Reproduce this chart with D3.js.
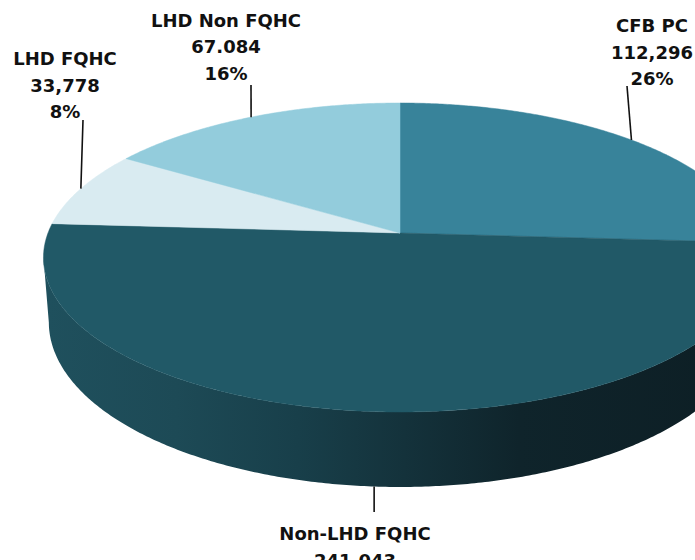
<!DOCTYPE html>
<html>
<head>
<meta charset="utf-8">
<script src="https://cdn.jsdelivr.net/npm/d3@7"></script>
<style>
  html, body { margin: 0; padding: 0; background: #fff; }
  svg { display: block; }
  text { font-family: "DejaVu Sans", sans-serif; font-weight: bold; font-size: 18px; fill: #111; }
</style>
</head>
<body>
<svg id="chart" width="695" height="560"></svg>
<script>
// Slice data, in drawing order (clockwise from 12 o'clock)
const categories  = ["CFB PC", "Non-LHD FQHC", "LHD FQHC", "LHD Non FQHC"];
const counts      = [112296, 241043, 33778, 67084];
const countLabels = ["112,296", "241,043", "33,778", "67.084"];
const shares      = [26, 50, 8, 16];
const shareLabels = ["26%", "50%", "8%", "16%"];
const topColors   = ["#38839a", "#215967", "#d9ebf1", "#93ccdc"];

// Geometry of the tilted disc
const CX = 400, CY = 233;      // projected centre of the top face
const RX = 352, RY = 150.6;    // radii before perspective
const K = 0.1586;              // perspective strength (near edge looks larger)
const DEPTH = 63.1;            // thickness of the disc
const SB = 0.985;              // bottom face shrink

function project(theta, bottom) {
  const u = Math.sin(theta), v = -Math.cos(theta);
  const d = 1 - K * v;
  let x = CX + RX * u / d;
  let y = CY + RY * v / d;
  if (bottom) { x = CX + (x - CX) * SB; y += DEPTH / d; }
  return [x, y];
}

function arcPoints(a0, a1, bottom) {
  const n = Math.max(2, Math.ceil(Math.abs(a1 - a0) / (Math.PI / 360)));
  return d3.range(n + 1).map(i => project(a0 + (a1 - a0) * i / n, bottom));
}

const svg = d3.select("#chart");
const line = d3.line();

const pie = d3.pie().sort(null).value((d, i) => shares[i]);
const arcs = pie(categories);

// Side wall: the visible front part lies between the horizontal extremes
const samples = d3.range(0, 2 * Math.PI, Math.PI / 720);
const xs = samples.map(t => project(t, false)[0]);
const tRight = samples[d3.maxIndex(xs)];
const tLeft = samples[d3.minIndex(xs)];

const defs = svg.append("defs");
const grad = defs.append("linearGradient")
  .attr("id", "sideGrad")
  .attr("gradientUnits", "userSpaceOnUse")
  .attr("x1", CX - RX).attr("x2", CX + RX + 10).attr("y1", 0).attr("y2", 0);
[[0, "#1f505d"], [0.18, "#1d4a56"], [0.35, "#183f4a"], [0.5, "#14323b"],
 [0.66, "#0f242b"], [1, "#0d1e24"]].forEach(([o, c]) =>
  grad.append("stop").attr("offset", o).attr("stop-color", c));

const sideTop = arcPoints(tRight, tLeft, false);
const sideBottom = arcPoints(tLeft, tRight, true);
svg.append("path")
  .attr("d", line(sideTop.concat(sideBottom)) + "Z")
  .attr("fill", "url(#sideGrad)");

// Top face slices
svg.append("g").selectAll("path")
  .data(arcs)
  .join("path")
  .attr("d", a => line([[CX, CY]].concat(arcPoints(a.startAngle, a.endAngle, false))) + "Z")
  .attr("fill", (a, i) => topColors[i])
  .attr("stroke", (a, i) => topColors[i])
  .attr("stroke-width", 0.5);

// Label layout: text centre, first baseline, and where the leader meets the text
const labelLayout = [
  { x: 652, y: 32,  end: [627, 86],  bottom: false },
  { x: 355, y: 540, end: null,       bottom: true  },
  { x: 65,  y: 65,  end: [83, 120],  bottom: false },
  { x: 226, y: 26.5, end: [251, 85], bottom: false }
];
const LINE_H = 26.7;

const labels = svg.append("g");
arcs.forEach((a, i) => {
  const L = labelLayout[i];
  const mid = (a.startAngle + a.endAngle) / 2;
  const p = project(mid, L.bottom);
  const end = L.end || [p[0], 512];
  labels.append("line")
    .attr("x1", p[0]).attr("y1", p[1])
    .attr("x2", end[0]).attr("y2", end[1])
    .attr("stroke", "#111").attr("stroke-width", 1.6);
  [categories[i], countLabels[i], shareLabels[i]].forEach((t, j) => {
    labels.append("text")
      .attr("x", L.x).attr("y", L.y + j * LINE_H)
      .attr("text-anchor", "middle")
      .text(t);
  });
});
</script>
</body>
</html>
